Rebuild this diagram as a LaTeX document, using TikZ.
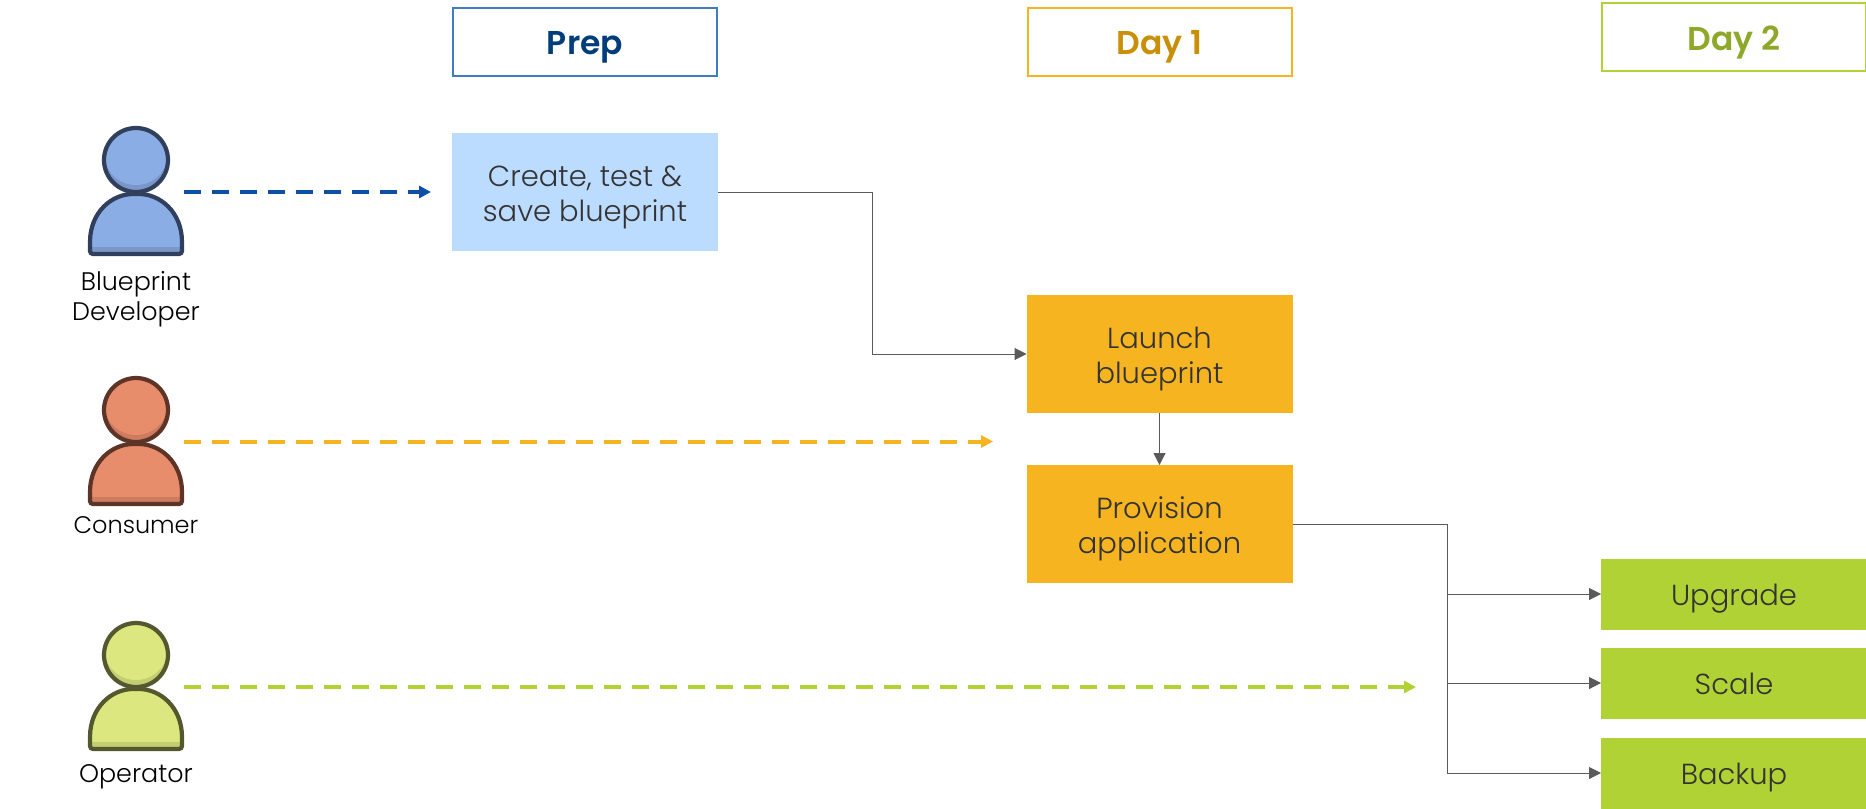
\documentclass[tikz,border=0pt]{standalone}
\usepackage{fontspec}
\setmainfont{Poppins Light}[BoldFont={Poppins SemiBold}]
\usetikzlibrary{arrows.meta, positioning}

\definecolor{prepblue}{HTML}{003D79}
\definecolor{prepline}{HTML}{3F7CC4}
\definecolor{prepfill}{HTML}{BBDBFF}
\definecolor{dashblue}{HTML}{0F4FA8}
\definecolor{dayoneink}{HTML}{C98F06}
\definecolor{dayone}{HTML}{F5B420}
\definecolor{daytwoink}{HTML}{8EA82A}
\definecolor{daytwo}{HTML}{B0D235}
\definecolor{inktext}{HTML}{333333}
\definecolor{linkgray}{HTML}{5A5A5A}

\begin{document}
\begin{tikzpicture}[
    x=0.5pt, y=-0.5pt,
    header/.style={draw, line width=1pt, fill=white, minimum width=132pt, minimum height=34pt, inner sep=0pt, outer sep=0pt, text height=12.9pt, text depth=0.3pt, font=\fontsize{16.5}{20}\selectfont\bfseries},
    task/.style={fill=#1, text=inktext, minimum width=133pt, align=center, inner sep=0pt, outer sep=0pt, font=\fontsize{14.5}{17.5}\selectfont},
    bigtask/.style={task=#1, minimum height=59pt, text height=30pt, text depth=0.5pt},
    smalltask/.style={task=#1, minimum height=35.5pt, text height=12pt, text depth=0.2pt},
    link/.style={-{Triangle[length=6pt,width=6pt]}, linkgray, line width=0.5pt},
    dashlink/.style={-{Triangle[length=6pt,width=6pt]}, #1, line width=2pt, dash pattern=on 8.4pt off 5.6pt},
    role/.style={align=center, text=black, font=\fontsize{12.7}{15}\selectfont}
]
\useasboundingbox (0,0) rectangle (1866,808);

% column headers
\node[header, draw=prepline, text=prepblue] (prep) at (585,42) {Prep};
\node[header, draw=dayone, text=dayoneink] (day1) at (1159.5,42) {Day 1};
\node[header, draw=daytwo, text=daytwoink] (day2) at (1734,37.5) {Day 2};

% steps
\node[bigtask=prepfill, below=28.5pt of prep] (create) {Create, test \&\\save blueprint};
\node[bigtask=dayone, below=109.5pt of day1] (launch) {Launch\\blueprint};
\node[bigtask=dayone, below=26pt of launch] (provision) {Provision\\application};
\node[smalltask=daytwo, below=243.5pt of day2] (upgrade) {Upgrade};
\node[smalltask=daytwo, below=9pt of upgrade] (scale) {Scale};
\node[smalltask=daytwo, below=9.5pt of scale] (backup) {Backup};

% the three people
\foreach \dy/\bodyc/\shadec/\linec in {0/8AADE6/7A97C8/2F3F5C, 250/E88D6B/CD7C5F/5C3528, 495/DDE77F/C4CD71/55582E} {
    \begin{scope}[shift={(0,\dy)}]
        \definecolor{bodyc}{HTML}{\bodyc}
        \definecolor{shadec}{HTML}{\shadec}
        \definecolor{linec}{HTML}{\linec}
        \begin{scope}
            \clip (136,160) circle[radius=32];
            \fill[shadec] (136,160) circle[radius=32];
            \fill[bodyc] (136,153) circle[radius=32];
        \end{scope}
        \draw[linec, line width=2.1pt] (136,160) circle[radius=32];
        \begin{scope}
            \clip (90,245) .. controls (90,212) and (112,194) .. (136,194) .. controls (160,194) and (182,212) .. (182,245) -- (182,254) -- (90,254) -- cycle;
            \fill[bodyc] (88,190) rectangle (184,247);
            \fill[shadec] (88,247) rectangle (184,256);
        \end{scope}
        \draw[linec, line width=2.1pt, rounded corners=1.5pt] (90,245) .. controls (90,212) and (112,194) .. (136,194) .. controls (160,194) and (182,212) .. (182,245) -- (182,254) -- (90,254) -- cycle;
    \end{scope}
}

% role names
\node[role] (developer) at (136,299) {Blueprint\\Developer};
\node[role, font=\fontsize{12}{15}\selectfont] (consumer) at (136,525) {Consumer};
\node[role] (operator) at (136,777) {Operator};

% dashed arrows, from each person to its column
\coordinate (devfrom) at (184,192);
\coordinate (devto) at (431,192);
\coordinate (confrom) at (184,441.5);
\coordinate (conto) at (993,441.5);
\coordinate (opfrom) at (184,687);
\coordinate (opto) at (1416,687);
\draw[dashlink=dashblue] (devfrom) -- (devto);
\draw[dashlink=dayone] (confrom) -- (conto);
\draw[dashlink=daytwo] (opfrom) -- (opto);

% connectors
\coordinate (bend) at (872,192);
\coordinate (trunk) at (1447.5,524);
\draw[link] (create.east) -- (bend) |- (launch.west);
\draw[link] (launch) -- (provision);
\draw[link] (provision.east) -- (trunk) |- (backup.west);
\draw[link] (trunk |- upgrade) -- (upgrade.west);
\draw[link] (trunk |- scale) -- (scale.west);

\end{tikzpicture}
\end{document}
